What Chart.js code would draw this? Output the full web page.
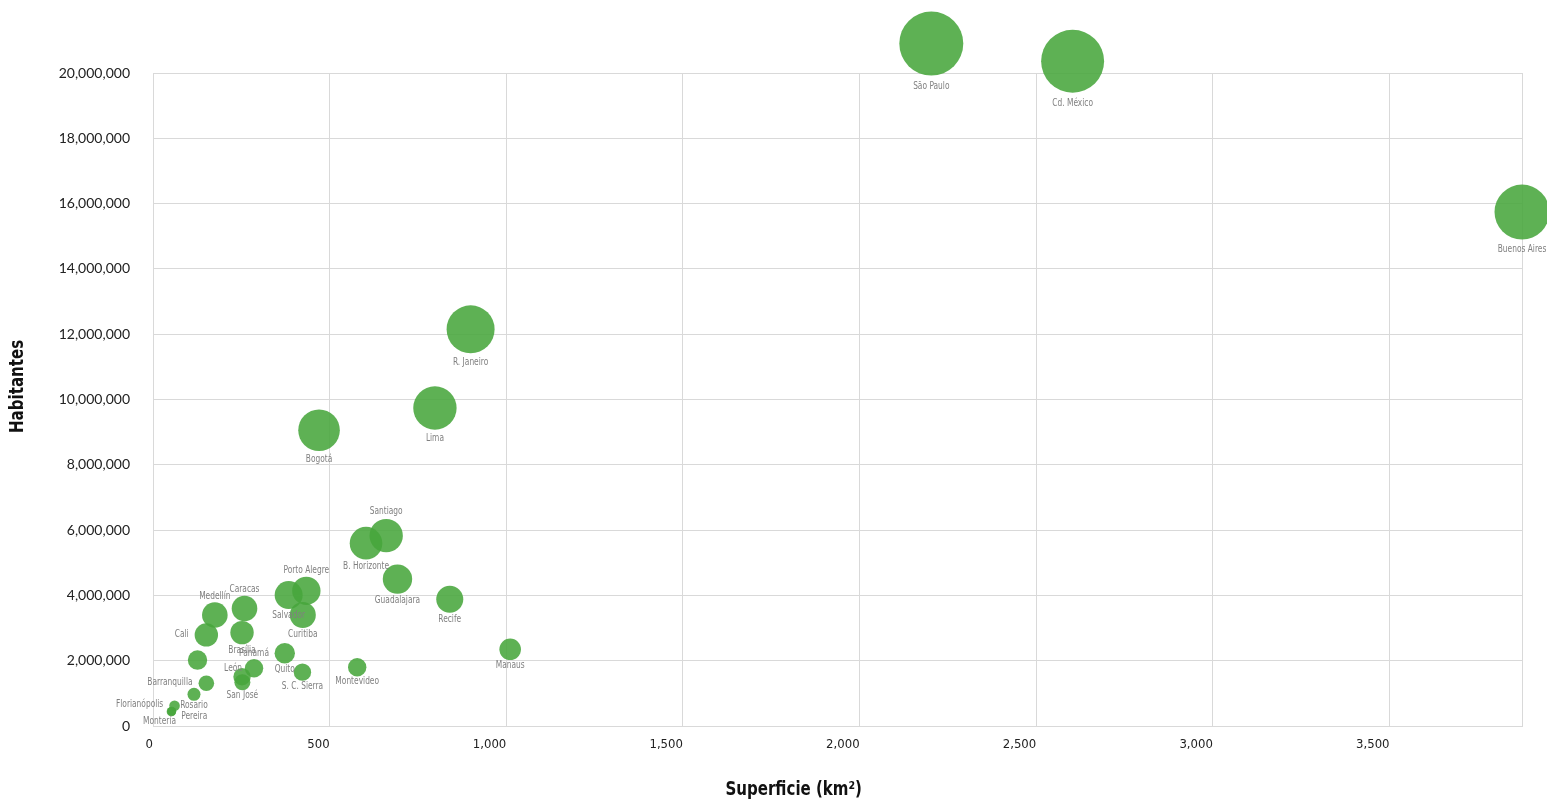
<!DOCTYPE html>
<html>
<head>
<meta charset="utf-8">
<script src="https://cdn.jsdelivr.net/npm/chart.js@4/dist/chart.umd.min.js"></script>
<style>
  html, body { margin: 0; padding: 0; background: #fff; }
  #wrap { width: 1547px; height: 802px; position: relative; }
</style>
</head>
<body>
<div id="wrap"><canvas id="chart"></canvas></div>
<script>
// ciudades (nombre vacío = burbuja sin etiqueta)
const CITIES = [
  'São Paulo', 'Cd. México', 'Buenos Aires', 'R. Janeiro', 'Lima', 'Bogotá',
  'Santiago', 'B. Horizonte', 'Guadalajara', 'Recife', 'Manaus', 'Porto Alegre',
  'Salvador', 'Curitiba', 'Quito', 'S. C. Sierra', 'Montevideo', 'Caracas',
  'Brasília', 'Medellín', 'Cali', '', 'Panamá', 'León', 'San José',
  'Barranquilla', 'Rosario', 'Florianópolis', 'Montería', 'Pereira'
];

// superficie (km²)
const SUPERFICIE = [
  2203, 2603, 3875, 899, 798, 470,
  660, 603, 692, 840, 1011, 434,
  384, 424, 373, 423, 578, 259,
  252, 175, 151, 126, 286, 252, 253,
  151, 116, 61, 52, 53
];

// habitantes
const HABITANTES = [
  20900000, 20360000, 15740000, 12150000, 9740000, 9060000,
  5830000, 5600000, 4500000, 3880000, 2350000, 4140000,
  4010000, 3400000, 2230000, 1650000, 1800000, 3600000,
  2860000, 3400000, 2790000, 2020000, 1770000, 1510000, 1340000,
  1310000, 970000, 620000, 440000, 450000
];

// tamaño de burbuja
const TAMANO = [
  32, 31.5, 27.5, 24, 21.7, 20.8,
  16.7, 16.3, 14.7, 13.5, 10.8, 14.2,
  14, 13, 10.2, 8.7, 9.2, 12.8,
  11.7, 12.8, 11.7, 9.7, 9.2, 8.7, 8,
  7.8, 6.5, 5.3, 4.7, 4.5
];

// dónde va la etiqueta: b=abajo a=arriba l=izq al=arriba-izq bl=abajo-izq br=abajo-der n=ninguna
const LABEL_POS = [
  'b', 'b', 'b', 'b', 'b', 'b',
  'a', 'b', 'b', 'b', 'b', 'a',
  'b', 'b', 'b', 'b', 'b', 'a',
  'b', 'a', 'l', 'n', 'a', 'al', 'b',
  'l', 'b', 'l', 'bl', 'br'
];

const X_TICKS = [0, 500, 1000, 1500, 2000, 2500, 3000, 3500];
const X_MAX = 3875;
const Y_TICKS = [0, 2000000, 4000000, 6000000, 8000000, 10000000,
  12000000, 14000000, 16000000, 18000000, 20000000];

const BUBBLE_COLOR = 'rgba(72, 166, 60, 0.88)';
const GRID_COLOR = '#d9d9d9';
const NARROW = '"Liberation Sans Narrow", "DejaVu Sans Condensed", sans-serif';

const points = SUPERFICIE.map((x, i) => ({ x: x, y: HABITANTES[i], r: TAMANO[i] }));

// texto estrechado horizontalmente (no hay fuente condensada real)
function narrowText(ctx, text, x, y, align, sx) {
  ctx.save();
  ctx.translate(x, y);
  ctx.scale(sx, 1);
  ctx.textAlign = align;
  ctx.fillText(text, 0, 0);
  ctx.restore();
}

// etiquetas de ciudades
const cityLabels = {
  id: 'cityLabels',
  afterDatasetsDraw(chart) {
    const ctx = chart.ctx;
    const meta = chart.getDatasetMeta(0);
    ctx.save();
    ctx.font = '10px ' + NARROW;
    ctx.fillStyle = '#808080';
    ctx.textBaseline = 'middle';
    meta.data.forEach((pt, i) => {
      const pos = LABEL_POS[i];
      if (!CITIES[i] || pos === 'n') return;
      const r = TAMANO[i];
      const gap = 3 + r * 0.25;
      let x = pt.x, y = pt.y, align = 'center';
      if (pos === 'b') { y = pt.y + r + gap; }
      else if (pos === 'a') { y = pt.y - r - gap; }
      else if (pos === 'l') { x = pt.x - r - 6; align = 'right'; y = pt.y - 1; }
      else if (pos === 'al') { x = pt.x; align = 'right'; y = pt.y - r; }
      else if (pos === 'bl') { x = pt.x + r; align = 'right'; y = pt.y + r + 5; }
      else if (pos === 'br') { x = pt.x + r + 5; align = 'left'; y = pt.y + 5; }
      narrowText(ctx, CITIES[i], x, y, align, 0.83);
    });
    ctx.restore();
  }
};

// títulos de ejes
const axisTitles = {
  id: 'axisTitles',
  afterDraw(chart) {
    const ctx = chart.ctx;
    const a = chart.chartArea;
    ctx.save();
    ctx.font = 'bold 19px ' + NARROW;
    ctx.fillStyle = '#111';
    ctx.textBaseline = 'middle';
    narrowText(ctx, 'Superficie (km²)', a.left + (a.right - a.left) * 0.468, chart.height - 12, 'center', 0.88);
    ctx.translate(18, a.top + (a.bottom - a.top) * 0.48);
    ctx.rotate(-Math.PI / 2);
    narrowText(ctx, 'Habitantes', 0, 0, 'center', 0.88);
    ctx.restore();
  }
};

const ctx = document.getElementById('chart').getContext('2d');
new Chart(ctx, {
  type: 'bubble',
  data: {
    datasets: [{
      label: 'Ciudades',
      data: points,
      backgroundColor: BUBBLE_COLOR,
      borderWidth: 0,
      hoverRadius: 0,
      hoverBorderWidth: 0,
      clip: false
    }]
  },
  options: {
    responsive: true,
    maintainAspectRatio: false,
    animation: false,
    events: [],
    layout: { autoPadding: false, padding: { top: 73, right: 25, left: 0, bottom: 0 } },
    plugins: {
      legend: { display: false },
      tooltip: { enabled: false }
    },
    scales: {
      x: {
        type: 'linear',
        min: 0,
        max: X_MAX,
        afterBuildTicks: s => {
          s.ticks = X_TICKS.concat([X_MAX]).map(v => ({ value: v }));
        },
        afterFit: s => {
          s.height = 76;
          s.paddingLeft = 0;
          s.paddingRight = 0;
        },
        ticks: {
          align: 'end',
          maxRotation: 0,
          autoSkip: false,
          padding: 11,
          color: '#222',
          font: { family: NARROW, size: 13 },
          callback: v => (X_TICKS.includes(v) ? v.toLocaleString('en-US') : '')
        },
        grid: { color: GRID_COLOR, drawTicks: false, lineWidth: 1 },
        border: { color: GRID_COLOR }
      },
      y: {
        min: 0,
        max: Y_TICKS[Y_TICKS.length - 1],
        afterBuildTicks: s => {
          s.ticks = Y_TICKS.map(v => ({ value: v }));
        },
        afterFit: s => {
          s.width = 153;
          s.paddingTop = 0;
          s.paddingBottom = 0;
        },
        ticks: {
          padding: 23,
          color: '#222',
          font: { family: 'Lato, "Open Sans", sans-serif', size: 14 },
          callback: v => v.toLocaleString('en-US')
        },
        grid: { color: GRID_COLOR, drawTicks: false, lineWidth: 1 },
        border: { color: GRID_COLOR }
      }
    }
  },
  plugins: [cityLabels, axisTitles]
});
</script>
</body>
</html>
